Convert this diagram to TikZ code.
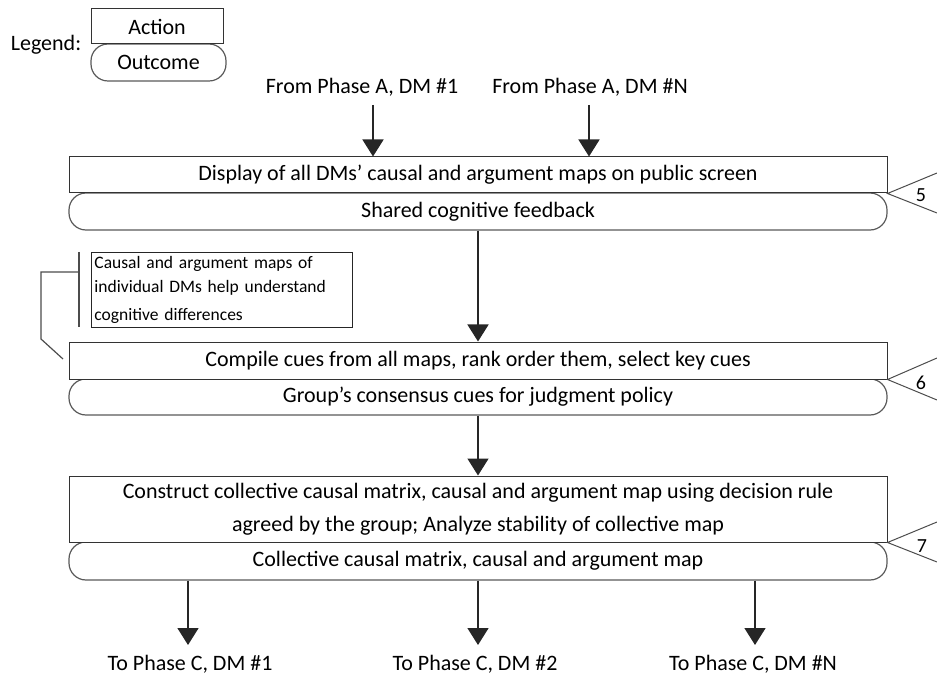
\documentclass[tikz,border=0pt]{standalone}
\usepackage{fontspec}
\setmainfont{Carlito}
\usetikzlibrary{arrows.meta}
\begin{document}
\begin{tikzpicture}[x=1pt,y=-1pt,
  mainfont/.style={font=\fontsize{22}{33}\selectfont},
  actbox/.style={draw=black!80, line width=1pt, fill=white, inner sep=0pt, mainfont, align=center},
  outbox/.style={draw=black!65, line width=1.2pt, rounded corners=17pt, inner sep=0pt, mainfont},
  arr/.style={draw=black!85, line width=1.6pt, -{Triangle[width=21pt,length=17pt]}},
  lbl/.style={inner sep=0pt, mainfont},
  thin/.style={draw=black!70, line width=1pt}]
\useasboundingbox (0,0) rectangle (937,676);

% legend
\node[lbl] (legend) at (46,45) {Legend:};
\node[outbox, minimum width=135, minimum height=37] (lout) at (158.5,62.5) {Outcome};
\node[actbox, minimum width=132, minimum height=35] (lact) at (157,26.5) {Action};

% inputs
\node[lbl] (fromA1) at (362,87) {From Phase A, DM \#1};
\node[lbl] (fromAN) at (590,87) {From Phase A, DM \#N};
\coordinate (sa1) at (373,105);
\coordinate (saN) at (589,105);

% step 5
\node[outbox, minimum width=818, minimum height=37] (o1) at (478,211.5) {Shared cognitive feedback};
\node[actbox, minimum width=818, minimum height=36] (d1) at (478,175) {Display of all DMs’ causal and argument maps on public screen};

% step 6
\node[outbox, minimum width=818, minimum height=36] (o2) at (478,397) {Group’s consensus cues for judgment policy};
\node[actbox, minimum width=818, minimum height=37] (d2) at (478,360.5) {Compile cues from all maps, rank order them, select key cues};

% step 7
\node[outbox, minimum width=818, minimum height=38] (o3) at (478,561) {Collective causal matrix, causal and argument map};
\node[actbox, minimum width=818, minimum height=66] (d3) at (478,509) {Construct collective causal matrix, causal and argument map using decision rule\\agreed by the group; Analyze stability of collective map};

% outputs
\node[lbl] (toC1) at (190,664) {To Phase C, DM \#1};
\node[lbl] (toC2) at (475,664) {To Phase C, DM \#2};
\node[lbl] (toCN) at (753,664) {To Phase C, DM \#N};
\coordinate (ec1) at (188,645);
\coordinate (ec2) at (478,645);
\coordinate (ecN) at (755,645);

% arrows
\draw[arr] (sa1) -- (d1.north -| sa1);
\draw[arr] (saN) -- (d1.north -| saN);
\draw[arr] (o1.south) -- (d2.north);
\draw[arr] (o2.south) -- (d3.north);
\draw[arr] (o3.south -| ec1) -- (ec1);
\draw[arr] (o3.south -| ec2) -- (ec2);
\draw[arr] (o3.south -| ecN) -- (ecN);

% step number callouts
\coordinate (t5a) at (937,173); \coordinate (t5b) at (937,213);
\coordinate (t6a) at (937,358); \coordinate (t6b) at (937,400);
\coordinate (t7a) at (937,522); \coordinate (t7b) at (937,562);
\draw[thin] (t5a) -- (d1.south east) -- (t5b);
\draw[thin] (t6a) -- (d2.south east) -- (t6b);
\draw[thin] (t7a) -- (d3.south east) -- (t7b);
\node[lbl, font=\fontsize{20}{22}\selectfont] (n5) at (921,195) {5};
\node[lbl, font=\fontsize{20}{22}\selectfont] (n6) at (921,383) {6};
\node[lbl, font=\fontsize{20}{22}\selectfont] (n7) at (922,546) {7};

% annotation
\node[draw=black!85, line width=0.9pt, minimum width=261, minimum height=75, text width=255pt, inner xsep=3pt, inner ysep=0pt, align=left, anchor=north west, font=\fontsize{17.5}{28}\selectfont] (note) at (91,252) {\vspace{-4pt}Causal and argument maps of\\individual DMs help understand\\cognitive differences};
\coordinate (b1) at (79,252);
\coordinate (b2) at (79,327);
\coordinate (b3) at (79,272);
\coordinate (b4) at (41,272);
\coordinate (b5) at (41,339);
\coordinate (b6) at (63,359);
\draw[thin, line width=1.2pt] (b1) -- (b2);
\draw[thin, line width=1.2pt] (b3) -- (b4) -- (b5) -- (b6);
\end{tikzpicture}
\end{document}
